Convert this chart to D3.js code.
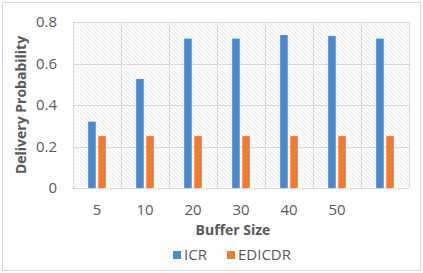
<!DOCTYPE html>
<html>
<head>
<meta charset="utf-8">
<script src="https://cdn.jsdelivr.net/npm/d3@7"></script>
<style>
  html, body { margin: 0; padding: 0; background: #fff; }
  svg { display: block; font-family: "Open Sans", sans-serif; }
</style>
</head>
<body>
<div id="chart"></div>
<script>
// Delivery probability vs buffer size
const categories = ["5", "10", "20", "30", "40", "50", ""];
const seriesNames = ["ICR", "EDICDR"];
const icr = [0.32, 0.525, 0.72, 0.72, 0.737, 0.733, 0.72];
const edicdr = [0.25, 0.25, 0.25, 0.25, 0.25, 0.25, 0.25];
const yTicks = [0, 0.2, 0.4, 0.6, 0.8];

const colors = { ICR: "#4a89d0", EDICDR: "#ef7d2e" };

const width = 423, height = 273;
const margin = { top: 22, right: 14, bottom: 85, left: 73 };
const plotW = width - margin.left - margin.right;
const plotH = height - margin.top - margin.bottom;

const rows = categories.map((c, i) => ({ cat: i, ICR: icr[i], EDICDR: edicdr[i] }));

const svg = d3.select("#chart").append("svg")
  .attr("width", width).attr("height", height);

// outer chart border
svg.append("rect")
  .attr("x", 2.5).attr("y", 2.5)
  .attr("width", width - 5).attr("height", height - 5)
  .attr("fill", "#fff").attr("stroke", "#d9d9d9");

// hatch pattern for plot area
const defs = svg.append("defs");
const pat = defs.append("pattern")
  .attr("id", "hatch")
  .attr("patternUnits", "userSpaceOnUse")
  .attr("width", 4).attr("height", 4);
pat.append("path")
  .attr("d", "M-1,-1 L5,5 M-1,3 L1,5 M3,-1 L5,1")
  .attr("stroke", "#e8e8e8").attr("stroke-width", 0.9);

const x = d3.scaleBand()
  .domain(d3.range(categories.length))
  .range([0, plotW]);

const xInner = d3.scaleBand()
  .domain(seriesNames)
  .range([0, x.bandwidth()])
  .paddingInner(0.25)
  .paddingOuter(1.5);

const y = d3.scaleLinear().domain([0, 0.8]).range([plotH, 0]);

const g = svg.append("g")
  .attr("transform", `translate(${margin.left},${margin.top})`);

g.append("rect")
  .attr("width", plotW).attr("height", plotH)
  .attr("fill", "url(#hatch)");

// horizontal gridlines
g.append("g")
  .selectAll("line")
  .data(yTicks)
  .join("line")
  .attr("x1", 0).attr("x2", plotW)
  .attr("y1", d => Math.round(y(d)) + 0.5)
  .attr("y2", d => Math.round(y(d)) + 0.5)
  .attr("stroke", "#d9d9d9");

// vertical gridlines between categories
g.append("g")
  .selectAll("line")
  .data(d3.range(categories.length + 1))
  .join("line")
  .attr("x1", d => Math.round(d * x.step()) + 0.5)
  .attr("x2", d => Math.round(d * x.step()) + 0.5)
  .attr("y1", 0).attr("y2", plotH)
  .attr("stroke", "#d9d9d9");

// bars
g.append("g")
  .selectAll("g")
  .data(rows)
  .join("g")
  .attr("transform", d => `translate(${x(d.cat)},0)`)
  .selectAll("rect")
  .data(d => seriesNames.map(k => ({ key: k, value: d[k] })))
  .join("rect")
  .attr("x", d => xInner(d.key))
  .attr("width", xInner.bandwidth())
  .attr("y", d => y(d.value))
  .attr("height", d => plotH - y(d.value))
  .attr("fill", d => colors[d.key]);

// y axis labels
g.append("g")
  .call(d3.axisLeft(y).tickValues(yTicks).tickFormat(d => d === 0 ? "0" : d3.format(".1f")(d)).tickSize(0).tickPadding(16))
  .call(a => a.select(".domain").remove())
  .call(a => a.selectAll("text")
    .style("font-size", "15px")
    .style("font-family", "'Open Sans', sans-serif")
    .attr("fill", "#595959"));

// x axis labels
g.append("g")
  .attr("transform", `translate(0,${plotH})`)
  .call(d3.axisBottom(x).tickFormat(i => categories[i]).tickSize(0).tickPadding(16))
  .call(a => a.select(".domain").remove())
  .call(a => a.selectAll("text")
    .style("font-size", "15px")
    .style("font-family", "'Open Sans', sans-serif")
    .attr("fill", "#595959"));

// axis titles
svg.append("text")
  .attr("transform", `translate(21,${margin.top + plotH / 2}) rotate(-90)`)
  .attr("text-anchor", "middle")
  .attr("dy", "0.35em")
  .style("font-size", "14px").style("font-weight", "bold")
  .attr("fill", "#595959")
  .text("Delivery Probability");

svg.append("text")
  .attr("x", 233).attr("y", 230)
  .attr("text-anchor", "middle")
  .attr("dy", "0.35em")
  .style("font-size", "14px").style("font-weight", "bold")
  .attr("fill", "#595959")
  .text("Buffer Size");

// legend
const legendItems = [
  { key: "ICR", x: 173 },
  { key: "EDICDR", x: 227 }
];
const lg = svg.append("g").attr("transform", "translate(0,255)");
lg.selectAll("rect")
  .data(legendItems)
  .join("rect")
  .attr("x", d => d.x).attr("y", -4)
  .attr("width", 8).attr("height", 8)
  .attr("fill", d => colors[d.key]);
lg.selectAll("text")
  .data(legendItems)
  .join("text")
  .attr("x", d => d.x + 11).attr("y", 0)
  .attr("dy", "0.35em")
  .style("font-size", "15px")
  .attr("fill", "#595959")
  .text(d => d.key);
</script>
</body>
</html>
